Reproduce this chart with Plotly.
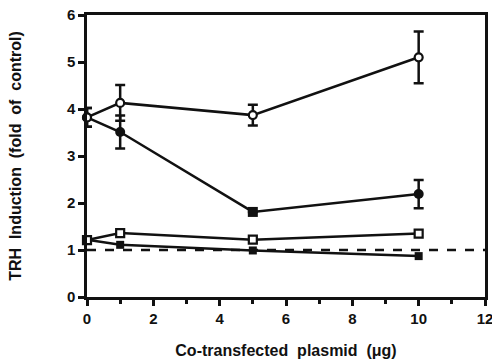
import plotly.graph_objects as go

x_vals = [0, 1, 5, 10]

open_circle = [3.82, 4.13, 3.87, 5.10]
open_circle_err = [0.20, 0.38, 0.22, 0.55]

filled_circle = [3.82, 3.51, 1.81, 2.19]
filled_circle_err = [0.20, 0.35, 0.0, 0.30]

open_square = [1.21, 1.36, 1.22, 1.35]
filled_square = [1.22, 1.11, 0.99, 0.87]

baseline_x = [0, 12]
baseline_y = [1, 1]

x_ticks = [0, 2, 4, 6, 8, 10, 12]
y_ticks = [0, 1, 2, 3, 4, 5, 6]

BLK = "#111111"
fig = go.Figure()

fig.add_trace(go.Scatter(x=baseline_x, y=baseline_y, mode="lines",
                         line=dict(color=BLK, width=2.5, dash="dash"),
                         showlegend=False, hoverinfo="skip"))

fig.add_trace(go.Scatter(x=x_vals, y=filled_square, mode="lines+markers",
                         line=dict(color=BLK, width=2.5),
                         marker=dict(symbol="square", size=8, color=BLK),
                         cliponaxis=False, showlegend=False))

fig.add_trace(go.Scatter(x=x_vals, y=open_square, mode="lines+markers",
                         line=dict(color=BLK, width=2.5),
                         marker=dict(symbol="square", size=8, color="white",
                                     line=dict(color=BLK, width=2.2)),
                         cliponaxis=False, showlegend=False))

fig.add_trace(go.Scatter(x=x_vals, y=filled_circle, mode="lines+markers",
                         line=dict(color=BLK, width=2.5),
                         marker=dict(symbol=["circle", "circle", "square", "circle"],
                                     size=10, color=BLK),
                         error_y=dict(type="data", array=filled_circle_err,
                                      color=BLK, thickness=2.5, width=5),
                         cliponaxis=False, showlegend=False))

fig.add_trace(go.Scatter(x=x_vals, y=open_circle, mode="lines+markers",
                         line=dict(color=BLK, width=2.5),
                         marker=dict(symbol="circle", size=8, color="white",
                                     line=dict(color=BLK, width=2.2)),
                         error_y=dict(type="data", array=open_circle_err,
                                      color=BLK, thickness=2.5, width=5),
                         cliponaxis=False, showlegend=False))

FONT = "Liberation Sans"
tickfont = dict(family=FONT, size=15, color=BLK, weight="bold")
titlefont = dict(family=FONT, size=16, color=BLK, weight="bold")
fig.update_layout(
    width=492, height=360,
    margin=dict(l=87, r=7, t=15, b=63),
    paper_bgcolor="white", plot_bgcolor="white",
    font=dict(family=FONT, color=BLK, size=15),
    xaxis=dict(range=[0, 12], tickvals=x_ticks, automargin=False,
               tickfont=tickfont, ticklabeloverflow="allow",
               ticks="outside", ticklen=6, tickwidth=2.5, tickcolor=BLK,
               minor=dict(dtick=1, ticks="outside", ticklen=4, tickwidth=2.5, tickcolor=BLK),
               showline=True, linewidth=2.5, linecolor=BLK, mirror=True,
               showgrid=False, zeroline=False,
               title=dict(text="Co-transfected  plasmid  (μg)", standoff=20,
                          font=titlefont)),
    yaxis=dict(range=[0, 6], tickvals=y_ticks, automargin=False,
               tickfont=tickfont, ticklabeloverflow="allow",
               ticks="outside", ticklen=6, tickwidth=2.5, tickcolor=BLK,
               showline=True, linewidth=2.5, linecolor=BLK, mirror=True,
               showgrid=False, zeroline=False,
               title=dict(text="TRH  Induction  (fold  of  control)", standoff=42,
                          font=titlefont)),
)

# remove the default 8px page margin so the figure fills the window
fig.write_html("out.html",
               config={"displayModeBar": False},
               post_script="document.body.style.margin='0';document.body.style.overflow='hidden';")
